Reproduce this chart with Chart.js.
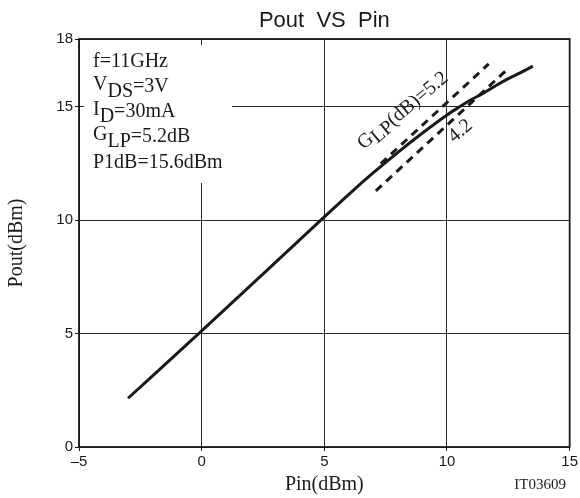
<!DOCTYPE html>
<html>
<head>
<meta charset="utf-8">
<script src="https://cdn.jsdelivr.net/npm/chart.js@4.4.0/dist/chart.umd.min.js"></script>
<style>
html,body{margin:0;padding:0;background:#fff;}
#wrap{width:580px;height:498px;}
</style>
</head>
<body>
<div id="wrap"><canvas id="c" width="580" height="498"></canvas></div>
<script>
// ---- data ----
const pinValues  = [-3, 0, 5, 6, 7, 8, 9, 10, 10.5, 11, 11.5, 12, 12.5, 13, 13.5];
const poutValues = [2.15, 5.12, 10.15, 11.15, 12.1, 13.0, 13.85, 14.65, 15.0, 15.33, 15.62, 15.95, 16.25, 16.52, 16.8];
const glp52X = [7.3, 11.7];
const glp52Y = [12.5, 16.9];
const glp42X = [7.1, 12.4];
const glp42Y = [11.3, 16.6];
const xTicks = [-5, 0, 5, 10, 15];
const yTicks = [0, 5, 10, 15, 18];
const titleText = 'Pout  VS  Pin';
const xTitle = 'Pin(dBm)';
const yTitle = 'Pout(dBm)';
const codeText = 'IT03609';

const toPts = (xs, ys) => xs.map((x, i) => ({x: x, y: ys[i]}));
const INK = '#1a1a1a';
const SERIF = '"Liberation Serif", "Times New Roman", serif';
const SANS = '"Liberation Sans", Arial, sans-serif';

function drawParts(ctx, x, y, parts, font) {
  ctx.font = font;
  let cx = x;
  parts.forEach(p => {
    ctx.fillText(p.t, cx, y + (p.dy || 0));
    cx += ctx.measureText(p.t).width;
  });
}

const decor = {
  id: 'decor',
  beforeDatasetsDraw(chart) {
    const ctx = chart.ctx, a = chart.chartArea;
    ctx.save();
    ctx.fillStyle = '#fff';
    ctx.fillRect(a.left + 5, a.top + 6, 232 - (a.left + 5), 183 - (a.top + 6));
    ctx.restore();
  },
  afterDatasetsDraw(chart) {
    const ctx = chart.ctx, a = chart.chartArea;
    const xs = chart.scales.x, ys = chart.scales.y;
    ctx.save();
    // frame
    ctx.strokeStyle = INK;
    ctx.lineWidth = 1.8;
    ctx.strokeRect(a.left, a.top, a.right - a.left, a.bottom - a.top);

    ctx.fillStyle = INK;
    ctx.textBaseline = 'alphabetic';
    // title
    ctx.textAlign = 'center';
    ctx.font = '22px ' + SANS;
    ctx.fillText(titleText, (a.left + a.right) / 2, 27);
    // x title
    ctx.font = '20px ' + SERIF;
    ctx.fillText(xTitle, (a.left + a.right) / 2, 490);
    // code
    ctx.textAlign = 'right';
    ctx.font = '15px ' + SERIF;
    ctx.fillText(codeText, 566, 489);
    // y title
    ctx.save();
    ctx.translate(22, (a.top + a.bottom) / 2);
    ctx.rotate(-Math.PI / 2);
    ctx.textAlign = 'center';
    ctx.font = '20px ' + SERIF;
    ctx.fillText(yTitle, 0, 0);
    ctx.restore();

    // annotation block
    ctx.textAlign = 'left';
    const f = '20px ' + SERIF;
    const lx = a.left + 14;
    drawParts(ctx, lx, 67, [{t: 'f=11GHz'}], f);
    drawParts(ctx, lx, 90, [{t: 'V'}, {t: 'DS', dy: 7}, {t: '=3V', dy: 2}], f);
    drawParts(ctx, lx, 115, [{t: 'I'}, {t: 'D', dy: 7}, {t: '=30mA', dy: 2}], f);
    drawParts(ctx, lx, 140, [{t: 'G'}, {t: 'LP', dy: 7}, {t: '=5.2dB', dy: 2}], f);
    drawParts(ctx, lx, 168, [{t: 'P1dB=15.6dBm'}], f);

    // rotated gain labels
    const ang = -40 * Math.PI / 180;
    ctx.save();
    ctx.translate(xs.getPixelForValue(6.6), ys.getPixelForValue(13.1));
    ctx.rotate(ang);
    drawParts(ctx, 0, 0, [{t: 'G'}, {t: 'LP', dy: 4}, {t: '(dB)=5.2', dy: 1}], f);
    ctx.restore();
    ctx.save();
    ctx.translate(xs.getPixelForValue(10.3), ys.getPixelForValue(13.4));
    ctx.rotate(ang);
    drawParts(ctx, 0, 0, [{t: '4.2'}], f);
    ctx.restore();
    ctx.restore();
  }
};

new Chart(document.getElementById('c'), {
  type: 'line',
  data: {
    datasets: [
      {data: toPts(pinValues, poutValues), borderColor: INK, borderWidth: 3, pointRadius: 0, cubicInterpolationMode: 'monotone', fill: false},
      {data: toPts(glp52X, glp52Y), borderColor: INK, borderWidth: 3, borderDash: [8, 6], pointRadius: 0, fill: false, borderCapStyle: 'butt'},
      {data: toPts(glp42X, glp42Y), borderColor: INK, borderWidth: 3, borderDash: [8, 6], pointRadius: 0, fill: false, borderCapStyle: 'butt'}
    ]
  },
  options: {
    responsive: false,
    animation: false,
    devicePixelRatio: 1,
    layout: {padding: {left: 0, right: 9, top: 39, bottom: 0}},
    plugins: {legend: {display: false}, title: {display: false}, tooltip: {enabled: false}},
    scales: {
      x: {
        type: 'linear', min: -5, max: 15,
        afterBuildTicks: s => { s.ticks = xTicks.map(v => ({value: v})); },
        afterFit: s => { s.height = 51; },
        border: {display: false},
        grid: {color: '#2a2a2a', lineWidth: 1, drawTicks: true, tickLength: 4, tickColor: INK},
        ticks: {
          color: INK, padding: 2, font: {family: SANS, size: 15},
          callback: v => (v < 0 ? '\u2013' + Math.abs(v) : String(v))
        }
      },
      y: {
        type: 'linear', min: 0, max: 18,
        afterBuildTicks: s => { s.ticks = yTicks.map(v => ({value: v})); },
        afterFit: s => { s.width = 79; },
        border: {display: false},
        grid: {color: '#2a2a2a', lineWidth: 1, drawTicks: true, tickLength: 4, tickColor: INK},
        ticks: {color: INK, padding: 2, font: {family: SANS, size: 15}}
      }
    }
  },
  plugins: [decor]
});
</script>
</body>
</html>
